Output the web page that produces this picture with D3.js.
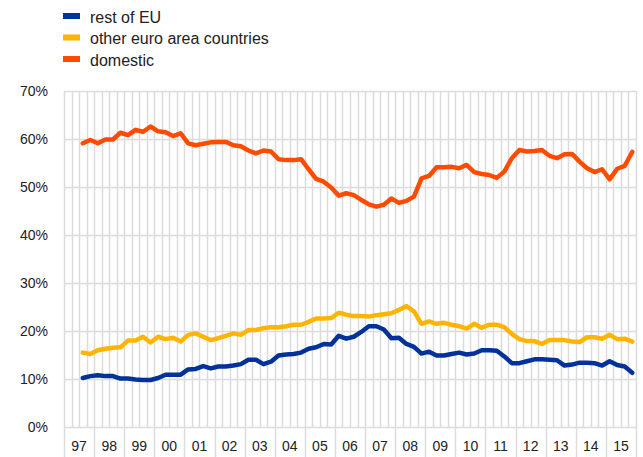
<!DOCTYPE html>
<html>
<head>
<meta charset="utf-8">
<script src="https://cdn.jsdelivr.net/npm/d3@7"></script>
<style>
  html, body { margin: 0; padding: 0; background: #fff; }
  svg { display: block; font-family: "Liberation Sans", Arial, sans-serif; }
</style>
</head>
<body>
<svg id="chart" width="643" height="457"></svg>
<script>
// Quarterly shares (%), 1997 Q1 – 2015 Q4; first two quarters have no data
const years = ["97","98","99","00","01","02","03","04","05","06","07","08","09","10","11","12","13","14","15"];
const quarters = years.flatMap(y => ["Q1","Q2","Q3","Q4"].map(q => y + q));

const restOfEU = [null, null,
  10.2,10.6,10.8,10.6,10.6,10.1,10.1,9.9,9.8,9.8,10.2,10.9,10.9,10.9,
  12.0,12.1,12.7,12.2,12.6,12.6,12.8,13.1,14.0,14.0,13.1,13.6,14.9,15.1,
  15.2,15.5,16.3,16.6,17.3,17.2,19.0,18.4,18.8,19.8,21.0,21.0,20.3,18.5,
  18.6,17.3,16.7,15.3,15.7,14.9,14.9,15.2,15.5,15.1,15.3,16.0,16.0,15.9,
  14.7,13.3,13.3,13.7,14.1,14.1,14.0,13.9,12.8,13.0,13.4,13.4,13.3,12.8,
  13.7,12.9,12.6,11.3];

const otherEuroArea = [null, null,
  15.5,15.2,16.0,16.3,16.5,16.6,18.0,18.0,18.8,17.6,18.8,18.3,18.6,17.8,
  19.2,19.5,18.8,18.1,18.5,19.0,19.5,19.2,20.2,20.2,20.6,20.8,20.8,21.0,
  21.3,21.3,21.9,22.6,22.6,22.7,23.8,23.4,23.1,23.1,23.0,23.3,23.5,23.7,
  24.4,25.2,24.1,21.5,22.0,21.5,21.7,21.3,21.0,20.5,21.5,20.7,21.3,21.3,
  20.8,19.4,18.3,17.9,17.9,17.3,18.1,18.1,18.1,17.8,17.7,18.7,18.7,18.4,
  19.2,18.3,18.4,17.8];

const domestic = [null, null,
  59.1,59.8,59.1,59.9,59.9,61.3,60.8,61.9,61.5,62.6,61.6,61.4,60.6,61.2,
  59.1,58.7,59.0,59.3,59.4,59.4,58.7,58.5,57.6,57.0,57.6,57.4,55.8,55.6,
  55.6,55.8,53.7,51.7,51.1,49.9,48.2,48.7,48.3,47.3,46.4,45.9,46.3,47.6,
  46.7,47.1,48.0,51.8,52.3,54.1,54.1,54.2,53.9,54.6,53.1,52.7,52.5,51.9,
  53.2,56.0,57.7,57.4,57.5,57.7,56.5,56.0,56.8,56.9,55.3,53.9,53.1,53.7,
  51.6,53.8,54.4,57.3];

const yTicks = [0,10,20,30,40,50,60,70];

const series = [
  { name: "rest of EU", values: restOfEU, color: "#003299" },
  { name: "other euro area countries", values: otherEuroArea, color: "#ffb400" },
  { name: "domestic", values: domestic, color: "#ff4b00" }
];

const svg = d3.select("#chart");
const m = { left: 64, right: 636, top: 91, bottom: 427 };

const x = d3.scaleBand().domain(quarters).range([m.left, m.right]).paddingInner(0).paddingOuter(0);
const xYear = d3.scaleBand().domain(years).range([m.left, m.right]);
const y = d3.scaleLinear().domain([0, 70]).range([m.bottom, m.top]);

const gridColor = "#dcdcdc";

// vertical grid at every quarter boundary
const bounds = quarters.map(q => x(q)).concat([m.right]);
svg.append("g").selectAll("line").data(bounds).join("line")
  .attr("x1", d => Math.round(d) + 0.5).attr("x2", d => Math.round(d) + 0.5)
  .attr("y1", m.top).attr("y2", m.bottom)
  .attr("stroke", gridColor).attr("stroke-width", 1.5);

// horizontal grid
svg.append("g").selectAll("line").data(yTicks).join("line")
  .attr("x1", m.left).attr("x2", m.right)
  .attr("y1", d => Math.round(y(d)) + 0.5).attr("y2", d => Math.round(y(d)) + 0.5)
  .attr("stroke", gridColor).attr("stroke-width", 1.5);

// y axis labels
const yAxis = d3.axisLeft(y).tickValues(yTicks).tickFormat(d => d + "%").tickSize(0).tickPadding(16);
const gy = svg.append("g").attr("transform", `translate(${m.left},0)`).call(yAxis);
gy.select(".domain").remove();
gy.selectAll("text").attr("font-size", 14).attr("fill", "#222")
  .attr("font-family", "'Liberation Sans', Arial, sans-serif");

// x axis: year labels with separators below the plot
const yearEdges = years.map(yr => xYear(yr)).concat([m.right]);
svg.append("g").selectAll("line").data(yearEdges).join("line")
  .attr("x1", d => Math.round(d) + 0.5).attr("x2", d => Math.round(d) + 0.5)
  .attr("y1", m.bottom).attr("y2", 457)
  .attr("stroke", gridColor).attr("stroke-width", 1.5);

const xAxis = d3.axisBottom(xYear).tickSize(0).tickPadding(14);
const gx = svg.append("g").attr("transform", `translate(0,${m.bottom})`).call(xAxis);
gx.select(".domain").remove();
gx.selectAll("text").attr("font-size", 14).attr("fill", "#222")
  .attr("font-family", "'Liberation Sans', Arial, sans-serif");

// lines
const line = d3.line()
  .defined(d => d.v != null)
  .x(d => x(d.q) + x.bandwidth() / 2)
  .y(d => y(d.v));

series.forEach(s => {
  const pts = quarters.map((q, i) => ({ q, v: s.values[i] }));
  svg.append("path").datum(pts)
    .attr("d", line)
    .attr("fill", "none")
    .attr("stroke", s.color)
    .attr("stroke-width", 4.5)
    .attr("stroke-linejoin", "round")
    .attr("stroke-linecap", "round");
});

// legend
const lg = svg.append("g").attr("transform", "translate(63,16)");
series.forEach((s, i) => {
  const g = lg.append("g").attr("transform", `translate(0,${i * 21.5})`);
  g.append("rect").attr("x", 0).attr("y", -3).attr("width", 17).attr("height", 6).attr("fill", s.color);
  g.append("text").attr("x", 27).attr("y", 1).attr("dy", "0.35em")
    .attr("font-size", 16).attr("fill", "#222").text(s.name);
});
</script>
</body>
</html>
